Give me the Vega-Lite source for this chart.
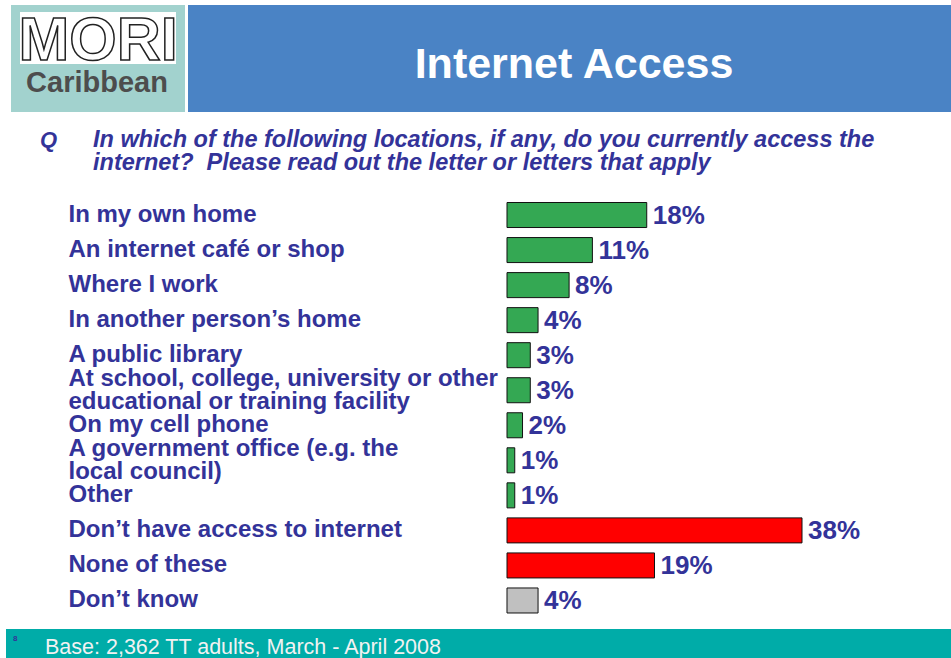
{
  "$schema": "https://vega.github.io/schema/vega-lite/v6.json",
  "width": 951,
  "height": 658,
  "autosize": "none",
  "padding": 0,
  "background": "white",
  "config": {"view": {"stroke": null}, "font": "Liberation Sans"},
  "layer": [
    {
      "data": {"values": [{}]},
      "mark": {"type": "rect", "fill": "#a2d2ce"},
      "encoding": {"x": {"value": 11}, "x2": {"value": 185}, "y": {"value": 5}, "y2": {"value": 112}}
    },
    {
      "data": {"values": [{}]},
      "mark": {"type": "rect", "fill": "white"},
      "encoding": {"x": {"value": 20}, "x2": {"value": 176}, "y": {"value": 12}, "y2": {"value": 64}}
    },
    {
      "data": {"values": [{}]},
      "mark": {"type": "text", "text": "MORI", "font": "Liberation Sans", "fontWeight": "bold", "fontSize": 61, "fill": "white", "stroke": "#222222", "strokeWidth": 1.5, "align": "center", "baseline": "alphabetic"},
      "encoding": {"x": {"value": 98}, "y": {"value": 60}}
    },
    {
      "data": {"values": [{}]},
      "mark": {"type": "text", "text": "Caribbean", "font": "Liberation Sans", "fontWeight": "bold", "fontSize": 29, "fill": "#4d4d4d", "align": "center", "baseline": "alphabetic"},
      "encoding": {"x": {"value": 97}, "y": {"value": 92}}
    },
    {
      "data": {"values": [{}]},
      "mark": {"type": "rect", "fill": "#4a83c5"},
      "encoding": {"x": {"value": 188}, "x2": {"value": 951}, "y": {"value": 5}, "y2": {"value": 112}}
    },
    {
      "data": {"values": [{}]},
      "mark": {"type": "text", "text": "Internet Access", "font": "Liberation Sans", "fontWeight": "bold", "fontSize": 43, "fill": "white", "align": "center", "baseline": "alphabetic"},
      "encoding": {"x": {"value": 574}, "y": {"value": 78}}
    },
    {
      "data": {"values": [{}]},
      "mark": {"type": "text", "text": "Q", "font": "Liberation Sans", "fontWeight": "bold", "fontStyle": "italic", "fontSize": 22, "fill": "#333399", "align": "left", "baseline": "alphabetic"},
      "encoding": {"x": {"value": 40}, "y": {"value": 147}}
    },
    {
      "data": {"values": [{}]},
      "mark": {"type": "text", "text": ["In which of the following locations, if any, do you currently access the", "internet?\u00a0 Please read out the letter or letters that apply"], "lineHeight": 23, "font": "Liberation Sans", "fontWeight": "bold", "fontStyle": "italic", "fontSize": 23.5, "fill": "#333399", "align": "left", "baseline": "alphabetic"},
      "encoding": {"x": {"value": 93}, "y": {"value": 147}}
    },
    {
      "data": {"values": [{}]},
      "mark": {"type": "rect", "fill": "#00aca8"},
      "encoding": {"x": {"value": 6}, "x2": {"value": 951}, "y": {"value": 629}, "y2": {"value": 658}}
    },
    {
      "data": {"values": [{}]},
      "mark": {"type": "text", "text": "Base: 2,362 TT adults, March - April 2008", "font": "Liberation Sans", "fontSize": 21.5, "fill": "#f2f2f2", "align": "left", "baseline": "alphabetic"},
      "encoding": {"x": {"value": 45}, "y": {"value": 654}}
    },
    {
      "data": {"values": [{}]},
      "mark": {"type": "text", "text": "8", "font": "Liberation Sans", "fontWeight": "bold", "fontSize": 8, "fill": "#333399", "align": "left", "baseline": "alphabetic"},
      "encoding": {"x": {"value": 13}, "y": {"value": 641}}
    },
    {
      "data": {"name": "main"},
      "layer": [
        {
          "mark": {"type": "bar", "stroke": "#111111", "strokeWidth": 1},
          "encoding": {
            "y": {
              "field": "location", "type": "nominal", "sort": null,
              "scale": {"range": [197.5, 618], "paddingInner": 0.286, "paddingOuter": 0.143},
              "axis": {
                "title": null, "orient": "left", "offset": -68, "domain": false, "ticks": false, "tickSize": 0,
                "labelAlign": "left", "labelPadding": 0, "labelLimit": 0,
                "labelFont": "Liberation Sans", "labelFontWeight": "bold", "labelFontSize": 24,
                "labelColor": "#333399", "labelLineHeight": 23,
                "labelOffset": {"condition": {"test": "indexof(datum.value, '|') >= 0", "value": -11.5}, "value": 0},
                "labelExpr": "split(datum.label, '|')"
              }
            },
            "x": {"field": "pct", "type": "quantitative", "scale": {"domain": [0, 38], "nice": false, "range": [507, 802]}, "axis": null},
            "color": {"field": "group", "type": "nominal", "scale": {"domain": ["access", "no", "dk"], "range": ["#34a853", "#ff0000", "#c0c0c0"]}, "legend": null}
          }
        },
        {
          "transform": [{"calculate": "datum.pct + '%'", "as": "pctLabel"}],
          "mark": {"type": "text", "align": "left", "baseline": "middle", "dx": 6, "dy": 1, "font": "Liberation Sans", "fontWeight": "bold", "fontSize": 26, "fill": "#333399"},
          "encoding": {
            "y": {"field": "location", "type": "nominal", "sort": null},
            "x": {"field": "pct", "type": "quantitative"},
            "text": {"field": "pctLabel"}
          }
        }
      ]
    }
  ],
  "datasets": {
    "main": [
      {"location": "In my own home", "pct": 18, "group": "access"},
      {"location": "An internet café or shop", "pct": 11, "group": "access"},
      {"location": "Where I work", "pct": 8, "group": "access"},
      {"location": "In another person’s home", "pct": 4, "group": "access"},
      {"location": "A public library", "pct": 3, "group": "access"},
      {"location": "At school, college, university or other|educational or training facility", "pct": 3, "group": "access"},
      {"location": "On my cell phone", "pct": 2, "group": "access"},
      {"location": "A government office (e.g. the|local  council)", "pct": 1, "group": "access"},
      {"location": "Other", "pct": 1, "group": "access"},
      {"location": "Don’t have access to internet", "pct": 38, "group": "no"},
      {"location": "None of these", "pct": 19, "group": "no"},
      {"location": "Don’t know", "pct": 4, "group": "dk"}
    ]
  }
}
